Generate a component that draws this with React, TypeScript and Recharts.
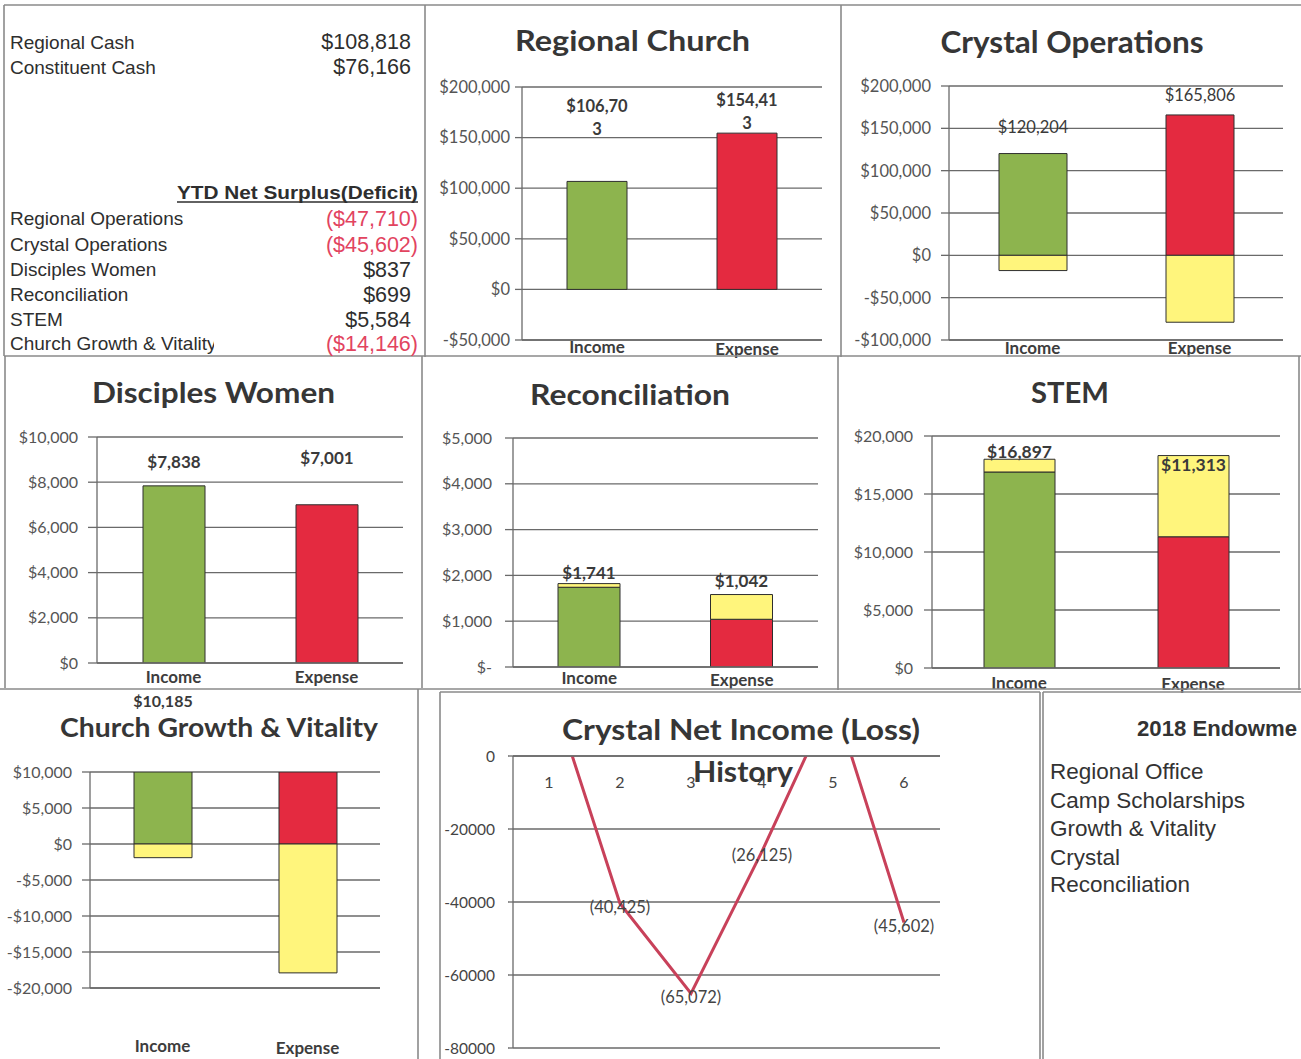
import React from 'react';
import { BarChart, Bar, XAxis, YAxis, CartesianGrid, Cell, LabelList, LineChart, Line } from 'recharts';

const FONT = 'Lato, "Open Sans", "DejaVu Sans", sans-serif';
const ARIAL = '"Liberation Sans", Arial, sans-serif';

const GREEN = '#8DB44E';
const RED = '#E42A40';
const YELLOW = '#FFF57C';
const GRID = '#6a6a6a';
const LINE_RED = '#C8415A';
const NEG_RED = '#E2445F';
const BORDER = '#8a8a8a';

// ---------- data ----------
const categories = ['Income', 'Expense'];

const regionalChurchActual = [106703, 154413];
const regionalChurchRemaining = [0, 0];
const regionalChurchTicks = [-50000, 0, 50000, 100000, 150000, 200000];

const crystalOpsActual = [120204, 165806];
const crystalOpsRemaining = [-18000, -79000];
const crystalOpsTicks = [-100000, -50000, 0, 50000, 100000, 150000, 200000];

const disciplesActual = [7838, 7001];
const disciplesRemaining = [0, 0];
const disciplesTicks = [0, 2000, 4000, 6000, 8000, 10000];

const reconActual = [1741, 1042];
const reconRemaining = [80, 540];
const reconTicks = [0, 1000, 2000, 3000, 4000, 5000];

const stemActual = [16897, 11313];
const stemRemaining = [1100, 7000];
const stemTicks = [0, 5000, 10000, 15000, 20000];

const growthActual = [10185, 24331];
const growthRemaining = [-1900, -17900];
const growthTicks = [-20000, -15000, -10000, -5000, 0, 5000, 10000];

const historyPeriods = ['1', '2', '3', '4', '5', '6'];
const historyNet = [19700, -40425, -65072, -26125, 16000, -45602];
const historyTicks = [0, -20000, -40000, -60000, -80000];

const cashLabels = ['Regional Cash', 'Constituent Cash'];
const cashValues = [108818, 76166];
const surplusHeading = 'YTD Net Surplus(Deficit)';
const surplusLabels = ['Regional Operations', 'Crystal Operations', 'Disciples Women', 'Reconciliation', 'STEM', 'Church Growth & Vitality'];
const surplusValues = [-47710, -45602, 837, 699, 5584, -14146];

const endowmentTitle = '2018 Endowme';
const endowmentItems = ['Regional Office', 'Camp Scholarships', 'Growth & Vitality', 'Crystal', 'Reconciliation'];

// ---------- formatters ----------
const fmtInt = (v: number) => Math.abs(Math.round(v)).toLocaleString('en-US');
const money = (v: number) => (v < 0 ? '-$' : '$') + fmtInt(v);
const moneyDash = (v: number) => (v === 0 ? '$-' : money(v));
const acct = (v: number) => (v < 0 ? `($${fmtInt(v)})` : `$${fmtInt(v)}`);
const paren = (v: number) => (v < 0 ? `(${fmtInt(v)})` : fmtInt(v));

type Box = { left: number; top: number; width: number; height: number };
type Plot = { left: number; top: number; right: number; bottom: number };

type BarPanelProps = {
  box: Box;
  plot: Plot;
  actual: number[];
  remaining: number[];
  domain: [number, number];
  ticks: number[];
  tickFmt: (v: number) => string;
  tickSize: number;
  tickMargin: number;
  tickFont: number;
  barSize: number;
  labelOffsets: (number | null)[];
  labelFont: number;
  labelWeight?: number;
  wrapAt?: number;
  xLabelY: number[];
};

const PAD = 12;

function makeBarLabel(offsets: (number | null)[], fs: number, weight: number, wrapAt?: number) {
  return (props: any) => {
    const { index, value } = props;
    const off = offsets[index];
    if (off == null) return null;
    const vb = props.viewBox || {};
    const x = Number(props.x ?? vb.x);
    const w = Number(props.width ?? vb.width);
    const y = Number(props.y ?? vb.y);
    const h = Number(props.height ?? vb.height);
    const top = Math.min(y, y + h);
    const cx = x + w / 2;
    const text = money(Number(value));
    const lines = wrapAt && text.length > wrapAt ? [text.slice(0, wrapAt), text.slice(wrapAt)] : [text];
    return (
      <text key={`lbl-${index}`} x={cx} y={top + off + 0.36 * fs} textAnchor="middle" fontFamily={FONT} fontSize={fs} fontWeight={weight} fill="#3a3a3a">
        {lines.map((l, i) => (
          <tspan key={i} x={cx} dy={i === 0 ? 0 : 23}>{l}</tspan>
        ))}
      </text>
    );
  };
}

function BarPanel(p: BarPanelProps) {
  const data = categories.map((name, i) => ({ name, actual: p.actual[i], remaining: p.remaining[i] }));
  const { box, plot } = p;
  const margin = { top: plot.top - box.top, right: box.left + box.width - plot.right, bottom: PAD, left: 0 };
  const yW = plot.left - box.left;
  const xH = box.top + box.height - plot.bottom;
  const xl = p.xLabelY.map((v) => v - box.top);
  return (
    <div style={{ position: 'absolute', left: box.left, top: box.top }}>
      <BarChart width={box.width} height={box.height + PAD} data={data} margin={margin} stackOffset="sign">
        <CartesianGrid vertical={false} stroke={GRID} strokeWidth={1.3} />
        <XAxis
          dataKey="name"
          height={xH}
          axisLine={{ stroke: GRID, strokeWidth: 1.3 }}
          tickLine={false}
          interval={0}
          tick={(t: any) => (
            <text key={`xt-${t.index}`} x={t.x} y={xl[t.index] + 0.36 * 17} textAnchor="middle" fontFamily={FONT} fontWeight={700} fontSize={17} fill="#3d3d3d">
              {t.payload.value}
            </text>
          )}
        />
        <YAxis
          type="number"
          width={yW}
          domain={p.domain}
          ticks={p.ticks}
          interval={0}
          allowDataOverflow
          tickFormatter={p.tickFmt}
          tickSize={p.tickSize}
          tickMargin={p.tickMargin}
          axisLine={{ stroke: GRID, strokeWidth: 1.3 }}
          tickLine={{ stroke: GRID, strokeWidth: 1.3 }}
          tick={{ fontSize: p.tickFont, fill: '#555', fontFamily: FONT }}
        />
        <Bar dataKey="actual" stackId="s" barSize={p.barSize} stroke="#2e2e2e" strokeWidth={1} isAnimationActive={false}>
          {data.map((d, i) => (
            <Cell key={d.name} fill={i === 0 ? GREEN : RED} />
          ))}
          <LabelList dataKey="actual" content={makeBarLabel(p.labelOffsets, p.labelFont, p.labelWeight ?? 700, p.wrapAt)} />
        </Bar>
        <Bar dataKey="remaining" stackId="s" barSize={p.barSize} fill={YELLOW} stroke="#2e2e2e" strokeWidth={1} isAnimationActive={false} />
      </BarChart>
    </div>
  );
}

function HistoryChart() {
  const data = historyPeriods.map((period, i) => ({ period, net: historyNet[i] }));
  const box = { left: 440, top: 692, width: 600, height: 367 };
  const plot = { left: 513, top: 756, right: 940, bottom: 1048 };
  const xLabelRel = 782 - box.top;
  const renderLabel = (props: any) => {
    const vb = props.viewBox || {};
    const x = Number(props.x ?? vb.x);
    const y = Number(props.y ?? vb.y);
    const v = Number(props.value);
    if (!(v < 0)) return null;
    return (
      <text key={`hl-${props.index}`} x={x} y={y + 4 + 0.36 * 16.5} textAnchor="middle" fontFamily={FONT} fontSize={16.5} fill="#444">
        {paren(v)}
      </text>
    );
  };
  return (
    <div style={{ position: 'absolute', left: box.left, top: box.top }}>
      <LineChart
        width={box.width}
        height={box.height}
        data={data}
        margin={{ top: plot.top - box.top - 1, right: box.left + box.width - plot.right, bottom: box.top + box.height - plot.bottom, left: 0 }}
      >
        <CartesianGrid vertical={false} stroke={GRID} strokeWidth={1.3} />
        <XAxis
          dataKey="period"
          orientation="top"
          height={1}
          padding={{ left: 36, right: 36 }}
          axisLine={{ stroke: GRID, strokeWidth: 1.3 }}
          tickLine={false}
          interval={0}
          tick={(t: any) => (
            <text key={`ht-${t.index}`} x={t.x} y={xLabelRel + 0.36 * 16} textAnchor="middle" fontFamily={FONT} fontSize={16} fill="#444">
              {t.payload.value}
            </text>
          )}
        />
        <YAxis
          type="number"
          width={plot.left - box.left}
          domain={[-80000, 0]}
          ticks={historyTicks}
          interval={0}
          allowDataOverflow
          tickSize={5}
          tickMargin={13}
          axisLine={{ stroke: GRID, strokeWidth: 1.3 }}
          tickLine={{ stroke: GRID, strokeWidth: 1.3 }}
          tick={{ fontSize: 15.5, fill: '#444', fontFamily: FONT }}
        />
        <Line type="linear" dataKey="net" stroke={LINE_RED} strokeWidth={3} dot={false} isAnimationActive={false}>
          <LabelList dataKey="net" content={renderLabel} />
        </Line>
      </LineChart>
    </div>
  );
}

function T(props: { x: number; y: number; size: number; children: React.ReactNode; weight?: number; anchor?: 'start' | 'middle' | 'end'; fill?: string; family?: string; len?: number; clip?: string }) {
  const { x, y, size, weight = 400, anchor = 'start', fill = '#2e2e2e', family = ARIAL, len, clip } = props;
  return (
    <text
      x={x}
      y={y + 0.36 * size}
      fontSize={size}
      fontWeight={weight}
      textAnchor={anchor}
      fill={fill}
      fontFamily={family}
      textLength={len}
      lengthAdjust={len ? 'spacingAndGlyphs' : undefined}
      clipPath={clip}
    >
      {props.children}
    </text>
  );
}

const borders: [number, number, number, number][] = [
  [4, 5, 1301, 5],
  [4, 5, 4, 356],
  [425, 5, 425, 357],
  [841, 5, 841, 357],
  [4, 356, 1301, 356],
  [5, 356, 5, 688],
  [422, 356, 422, 688],
  [838, 356, 838, 690],
  [1299, 356, 1299, 690],
  [0, 689, 1301, 689],
  [418, 689, 418, 1059],
  [440, 692, 1040, 692],
  [440, 692, 440, 1059],
  [1040, 692, 1040, 1059],
  [1043, 692, 1043, 1059],
  [1043, 692, 1301, 692],
];

function Overlay() {
  const cashY = [41.7, 66.7];
  const rowY = [218.3, 244, 269, 294, 319, 343];
  const endoY = [771, 800, 828, 857, 884];
  return (
    <svg width={1301} height={1059} style={{ position: 'absolute', left: 0, top: 0, pointerEvents: 'none' }}>
      <defs>
        <clipPath id="cgclip">
          <rect x={0} y={330} width={214} height={30} />
        </clipPath>
      </defs>
      {borders.map((b, i) => (
        <line key={i} x1={b[0]} y1={b[1]} x2={b[2]} y2={b[3]} stroke={BORDER} strokeWidth={1.6} />
      ))}
      {/* top-left summary panel */}
      {cashLabels.map((l, i) => (
        <React.Fragment key={l}>
          <T x={10} y={cashY[i]} size={19}>{l}</T>
          <T x={411} y={cashY[i]} size={21.5} anchor="end">{acct(cashValues[i])}</T>
        </React.Fragment>
      ))}
      <T x={418} y={192.7} size={18} weight={700} anchor="end" len={241}>{surplusHeading}</T>
      <line x1={177} y1={202} x2={418} y2={202} stroke="#2e2e2e" strokeWidth={1.5} />
      {surplusLabels.map((l, i) => (
        <React.Fragment key={l}>
          <T x={10} y={rowY[i]} size={19} clip={i === surplusLabels.length - 1 ? 'url(#cgclip)' : undefined}>{l}</T>
          <T x={surplusValues[i] < 0 ? 418 : 411} y={rowY[i]} size={21.5} anchor="end" fill={surplusValues[i] < 0 ? NEG_RED : '#2e2e2e'}>
            {acct(surplusValues[i])}
          </T>
        </React.Fragment>
      ))}
      {/* titles */}
      <T x={632.5} y={41} size={29} weight={700} anchor="middle" family={FONT} fill="#363636" len={235}>Regional  Church</T>
      <T x={1072} y={42} size={30} weight={700} anchor="middle" family={FONT} fill="#363636" len={263}>Crystal Operations</T>
      <T x={213.5} y={393} size={28} weight={700} anchor="middle" family={FONT} fill="#363636" len={243}>Disciples Women</T>
      <T x={630} y={395} size={28} weight={700} anchor="middle" family={FONT} fill="#363636" len={200}>Reconciliation</T>
      <T x={1070} y={393} size={29} weight={700} anchor="middle" family={FONT} fill="#363636" len={78}>STEM</T>
      <T x={219} y={728} size={26} weight={700} anchor="middle" family={FONT} fill="#363636" len={318}>Church Growth &amp; Vitality</T>
      <T x={741} y={730} size={28} weight={700} anchor="middle" family={FONT} fill="#363636" len={358}>Crystal Net Income (Loss)</T>
      <T x={743} y={772} size={28} weight={700} anchor="middle" family={FONT} fill="#363636" len={100}>History</T>
      {/* endowment panel */}
      <T x={1137} y={728} size={22} weight={700} fill="#333" len={160}>{endowmentTitle}</T>
      {endowmentItems.map((l, i) => (
        <T key={l} x={1050} y={endoY[i]} size={22.5} fill="#333">{l}</T>
      ))}
    </svg>
  );
}

export default function App() {
  return (
    <div style={{ position: 'absolute', left: 0, top: 0, width: 1301, height: 1059, overflow: 'hidden', background: '#fff' }}>
      <BarPanel
        box={{ left: 425, top: 5, width: 415, height: 353 }}
        plot={{ left: 522, top: 87, right: 822, bottom: 340 }}
        actual={regionalChurchActual}
        remaining={regionalChurchRemaining}
        domain={[-50000, 200000]}
        ticks={regionalChurchTicks}
        tickFmt={money}
        tickSize={7}
        tickMargin={5}
        tickFont={16.5}
        barSize={60}
        labelOffsets={[-75, -33]}
        labelFont={16.5}
        wrapAt={7}
        xLabelY={[347, 349]}
      />
      <BarPanel
        box={{ left: 842, top: 5, width: 459, height: 352 }}
        plot={{ left: 949, top: 86, right: 1283, bottom: 340 }}
        actual={crystalOpsActual}
        remaining={crystalOpsRemaining}
        domain={[-100000, 200000]}
        ticks={crystalOpsTicks}
        tickFmt={money}
        tickSize={8}
        tickMargin={10}
        tickFont={16.5}
        barSize={68}
        labelOffsets={[-27, -20]}
        labelFont={16.5}
        labelWeight={400}
        xLabelY={[348, 348]}
      />
      <BarPanel
        box={{ left: 5, top: 357, width: 417, height: 331 }}
        plot={{ left: 97, top: 437, right: 403, bottom: 663 }}
        actual={disciplesActual}
        remaining={disciplesRemaining}
        domain={[0, 10000]}
        ticks={disciplesTicks}
        tickFmt={money}
        tickSize={9}
        tickMargin={10}
        tickFont={16}
        barSize={62}
        labelOffsets={[-24, -47]}
        labelFont={17}
        xLabelY={[677, 677]}
      />
      <BarPanel
        box={{ left: 422, top: 358, width: 416, height: 330 }}
        plot={{ left: 513, top: 438, right: 818, bottom: 667 }}
        actual={reconActual}
        remaining={reconRemaining}
        domain={[0, 5000]}
        ticks={reconTicks}
        tickFmt={moneyDash}
        tickSize={8}
        tickMargin={13}
        tickFont={16}
        barSize={62}
        labelOffsets={[-14, -38]}
        labelFont={17}
        xLabelY={[678, 680]}
      />
      <BarPanel
        box={{ left: 838, top: 358, width: 463, height: 332 }}
        plot={{ left: 932, top: 436, right: 1280, bottom: 668 }}
        actual={stemActual}
        remaining={stemRemaining}
        domain={[0, 20000]}
        ticks={stemTicks}
        tickFmt={money}
        tickSize={8}
        tickMargin={11}
        tickFont={16}
        barSize={71}
        labelOffsets={[-20, -72]}
        labelFont={17.5}
        xLabelY={[683, 684]}
      />
      <BarPanel
        box={{ left: 0, top: 688, width: 418, height: 371 }}
        plot={{ left: 90, top: 772, right: 380, bottom: 988 }}
        actual={growthActual}
        remaining={growthRemaining}
        domain={[-20000, 10000]}
        ticks={growthTicks}
        tickFmt={money}
        tickSize={8}
        tickMargin={10}
        tickFont={16}
        barSize={58}
        labelOffsets={[-71, null]}
        labelFont={16}
        xLabelY={[1046, 1048]}
      />
      <HistoryChart />
      <Overlay />
    </div>
  );
}
